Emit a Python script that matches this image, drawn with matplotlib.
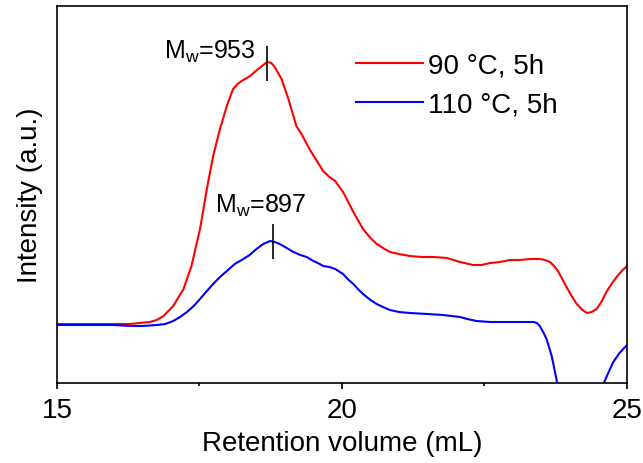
import numpy as np
import matplotlib
matplotlib.use('Agg')
import matplotlib.pyplot as plt

plt.rcParams['font.family'] = ['Liberation Sans', 'DejaVu Sans']
plt.rcParams['mathtext.fontset'] = 'custom'
plt.rcParams['mathtext.rm'] = 'Liberation Sans'
plt.rcParams['mathtext.default'] = 'regular'

# 90 C, 5h (red)
x_red = [15.0, 16.0, 16.28, 16.45, 16.63, 16.75, 16.87, 17.04, 17.22, 17.36, 17.51,
         17.63, 17.74, 17.86, 17.98, 18.09, 18.17, 18.24, 18.39, 18.53, 18.62, 18.69,
         18.76, 18.82, 18.94, 19.06, 19.2, 19.3, 19.44, 19.56, 19.67, 19.78, 19.88,
         20.02, 20.2, 20.37, 20.5, 20.61, 20.72, 20.84, 21.0, 21.19, 21.4, 21.6,
         21.84, 22.07, 22.3, 22.45, 22.6, 22.77, 22.95, 23.12, 23.3, 23.47, 23.56,
         23.65, 23.72, 23.8, 23.94, 24.03, 24.12, 24.22, 24.3, 24.38, 24.47, 24.55,
         24.64, 24.73, 24.82, 24.91, 25.0]
y_red = [59, 59, 59, 60, 61, 63, 67, 77, 94, 117, 154,
         194, 227, 254, 277, 294, 299, 302, 307, 314, 318, 321,
         320, 316, 304, 284, 257, 248, 233, 222, 212, 206, 202,
         191, 171, 154, 145, 139, 135, 131, 129, 127, 126, 126,
         125, 121, 118, 118, 120, 121, 123, 123, 124, 124, 123,
         121, 117, 111, 96, 87, 79, 73, 70, 71, 74, 81,
         91, 99, 106, 112, 117]

# 110 C, 5h (blue)
x_blue = [15.0, 16.0, 16.28, 16.5, 16.75, 16.9, 17.04, 17.16, 17.28, 17.4, 17.51,
          17.63, 17.74, 17.86, 17.98, 18.12, 18.27, 18.38, 18.5, 18.62, 18.74, 18.82,
          18.91, 19.03, 19.15, 19.27, 19.38, 19.5, 19.61, 19.67, 19.78, 19.88, 20.02,
          20.1, 20.2, 20.28, 20.37, 20.5, 20.61, 20.72, 20.84, 21.0, 21.19, 21.5,
          21.77, 22.07, 22.2, 22.36, 22.6, 22.95, 23.2, 23.36, 23.42, 23.47, 23.53,
          23.59, 23.68, 23.77, 23.85, 24.0, 24.2, 24.4, 24.5, 24.61, 24.68, 24.76,
          24.87, 25.0]
y_blue = [58, 58, 57, 57, 58, 59, 62, 66, 71, 77, 84,
          92, 99, 106, 112, 119, 124, 128, 134, 139, 142, 141,
          139, 135, 131, 128, 126, 122, 119, 117, 116, 114, 109,
          104, 99, 94, 89, 83, 79, 76, 73, 71, 70, 69,
          68, 66, 64, 62, 61, 61, 61, 61, 60, 57, 51,
          44, 27, 2, -25, -70, -85, -45, -15, 2, 11, 21,
          30, 38]

mw_labels = ['M$_w$=953', 'M$_w$=897']
mw_x = [18.68, 18.79]
mw_ybar = [(302, 337), (124, 159)]

fig = plt.figure(figsize=(6.43, 4.64), dpi=100)
ax = fig.add_axes([0.0886, 0.1724, 0.975 - 0.0886, 0.985 - 0.1724])

ax.plot(x_red, y_red, color='#ff0000', lw=1.5, label='90 \u00b0C, 5h')
ax.plot(x_blue, y_blue, color='#0000ff', lw=1.5, label='110 \u00b0C, 5h')

# Mw markers
ax.vlines(mw_x[0], *mw_ybar[0], color='black', lw=1.2)
ax.vlines(mw_x[1], *mw_ybar[1], color='black', lw=1.2)
ax.text(mw_x[0] - 0.2, 332, mw_labels[0], ha='right', va='center', fontsize=18)
ax.text(mw_x[1] - 0.21, 178, mw_labels[1], ha='center', va='center', fontsize=18)

ax.set_xlim(15, 25)
ax.set_ylim(0, 377)
ax.set_xticks([15, 20, 25])
ax.set_xticks([17.5, 22.5], minor=True)
ax.set_yticks([])
ax.tick_params(axis='x', which='major', direction='out', length=4, width=1.2,
               labelsize=20, pad=6)
ax.tick_params(axis='x', which='minor', direction='out', length=2.5, width=1.2)
for s in ax.spines.values():
    s.set_linewidth(1.2)

ax.set_xlabel('Retention volume (mL)', fontsize=20, labelpad=5)
ax.set_ylabel('Intensity (a.u.)', fontsize=20, labelpad=10)

ax.legend(loc='upper left', bbox_to_anchor=(0.505, 0.906), frameon=False,
          fontsize=20, handlelength=2.4, handletextpad=0.2, labelspacing=0.48,
          borderaxespad=0)

fig.savefig('out.png', dpi=100)
